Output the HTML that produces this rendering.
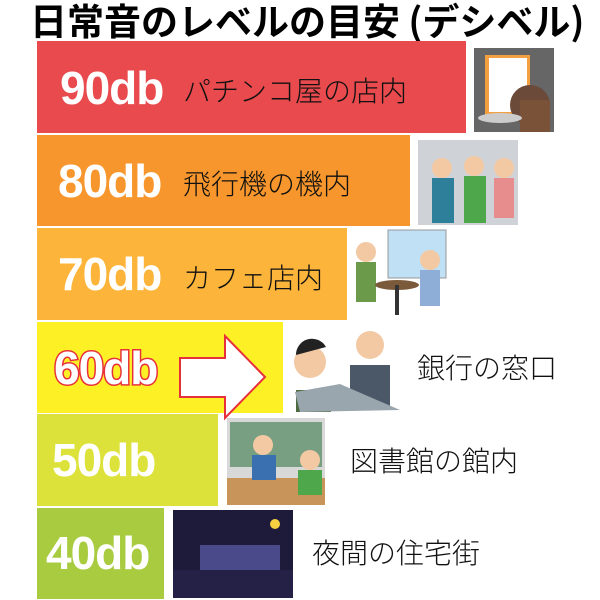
<!DOCTYPE html>
<html><head><meta charset="utf-8"><style>
body{margin:0;width:600px;height:600px;background:#fff;position:relative;overflow:hidden;font-family:"Liberation Sans","Noto Sans CJK JP",sans-serif}
.t{position:absolute;left:30px;top:-8px;font-size:37px;font-weight:bold;letter-spacing:0px;white-space:nowrap;font-family:"Noto Sans CJK JP",sans-serif}
.b{position:absolute;left:37px}
.db{position:absolute;font-weight:bold;color:#fff;font-size:46px;font-family:"Liberation Sans",sans-serif;letter-spacing:-1px}
.j{position:absolute;font-size:28px;font-family:"Noto Sans CJK JP",sans-serif;font-weight:300;white-space:nowrap;color:#111}
.im{position:absolute}
</style></head><body>
<div class="t">日常音のレベルの目安 (デシベル)</div>

<div class="b" style="top:41px;width:429px;height:92px;background:#e84a4d"></div>
<div class="b" style="top:135px;width:373px;height:91px;background:#f7962c"></div>
<div class="b" style="top:228px;width:310px;height:92px;background:#fcb53a"></div>
<div class="b" style="top:322px;width:246px;height:91px;background:#fdf024"></div>
<div class="b" style="top:414px;width:181px;height:92px;background:#dde23a"></div>
<div class="b" style="top:508px;width:127px;height:91px;background:#a8cb40"></div>

<div class="db" style="left:60px;top:61px">90db</div>
<div class="j" style="left:183px;top:70px">パチンコ屋の店内</div>
<div class="db" style="left:58px;top:154px">80db</div>
<div class="j" style="left:183px;top:163px">飛行機の機内</div>
<div class="db" style="left:58px;top:247px">70db</div>
<div class="j" style="left:183px;top:257px">カフェ店内</div>
<div class="db" style="left:54px;top:341px;color:#fff;-webkit-text-stroke:3px #e8303a;paint-order:stroke fill">60db</div>
<div class="j" style="left:417px;top:347px">銀行の窓口</div>
<div class="db" style="left:52px;top:433px">50db</div>
<div class="j" style="left:350px;top:440px">図書館の館内</div>
<div class="db" style="left:46px;top:526px">40db</div>
<div class="j" style="left:312px;top:532px">夜間の住宅街</div>

<svg class="im" style="left:0;top:0" width="600" height="600">
<polygon points="180,358 225,358 225,336 265,377 225,418 225,397 180,397" fill="#fff" stroke="#e8303a" stroke-width="2"/>
<rect x="474" y="48" width="80" height="84" fill="#666"/>
<rect x="485" y="55" width="45" height="60" fill="#f4a040"/>
<rect x="489" y="58" width="38" height="54" fill="#fff"/>
<circle cx="530" cy="105" r="20" fill="#6b4a3a"/>
<rect x="520" y="100" width="30" height="32" fill="#7a5238"/>
<ellipse cx="500" cy="118" rx="22" ry="5" fill="#ccc"/>
<rect x="418" y="140" width="100" height="85" fill="#cfd3d8"/>
<circle cx="442" cy="168" r="10" fill="#f3c9a4"/><rect x="432" y="178" width="22" height="45" fill="#2d7f9a"/>
<circle cx="474" cy="166" r="10" fill="#f3c9a4"/><rect x="464" y="176" width="22" height="47" fill="#4ea84b"/>
<circle cx="504" cy="168" r="10" fill="#f3c9a4"/><rect x="494" y="178" width="20" height="40" fill="#e88d8d"/>
<rect x="388" y="230" width="58" height="48" fill="#bfe0f5" stroke="#999"/>
<circle cx="366" cy="252" r="10" fill="#f3c9a4"/><rect x="356" y="262" width="20" height="40" fill="#6b9a4a"/>
<circle cx="430" cy="260" r="10" fill="#f3c9a4"/><rect x="420" y="270" width="20" height="36" fill="#8eaed8"/>
<ellipse cx="397" cy="285" rx="22" ry="5" fill="#7a5a3a"/><rect x="395" y="285" width="4" height="30" fill="#333"/>
<circle cx="310" cy="362" r="16" fill="#f3c9a4"/><path d="M296 355 a16 16 0 0 1 30 -8 z" fill="#222"/>
<rect x="296" y="390" width="35" height="22" fill="#4e6a40"/>
<circle cx="370" cy="345" r="14" fill="#f3c9a4"/><rect x="350" y="365" width="40" height="45" fill="#4a5868"/>
<polygon points="295,392 340,384 400,410 300,412" fill="#9aa6ae"/>
<rect x="227" y="418" width="98" height="87" fill="#d8d8d8"/>
<rect x="230" y="422" width="92" height="45" fill="#3a7a4a" opacity=".6"/>
<rect x="227" y="478" width="98" height="27" fill="#c9945a"/>
<circle cx="263" cy="445" r="10" fill="#f3c9a4"/><rect x="252" y="455" width="24" height="25" fill="#3a70b0"/>
<circle cx="310" cy="460" r="10" fill="#f3c9a4"/><rect x="298" y="470" width="24" height="25" fill="#4ea84b"/>
<rect x="173" y="510" width="120" height="88" fill="#1e1a3a"/>
<rect x="200" y="545" width="80" height="38" fill="#4a4a8a"/>
<rect x="173" y="570" width="120" height="28" fill="#252045"/>
<circle cx="275" cy="524" r="5" fill="#f5d040"/>
</svg>
</body></html>
